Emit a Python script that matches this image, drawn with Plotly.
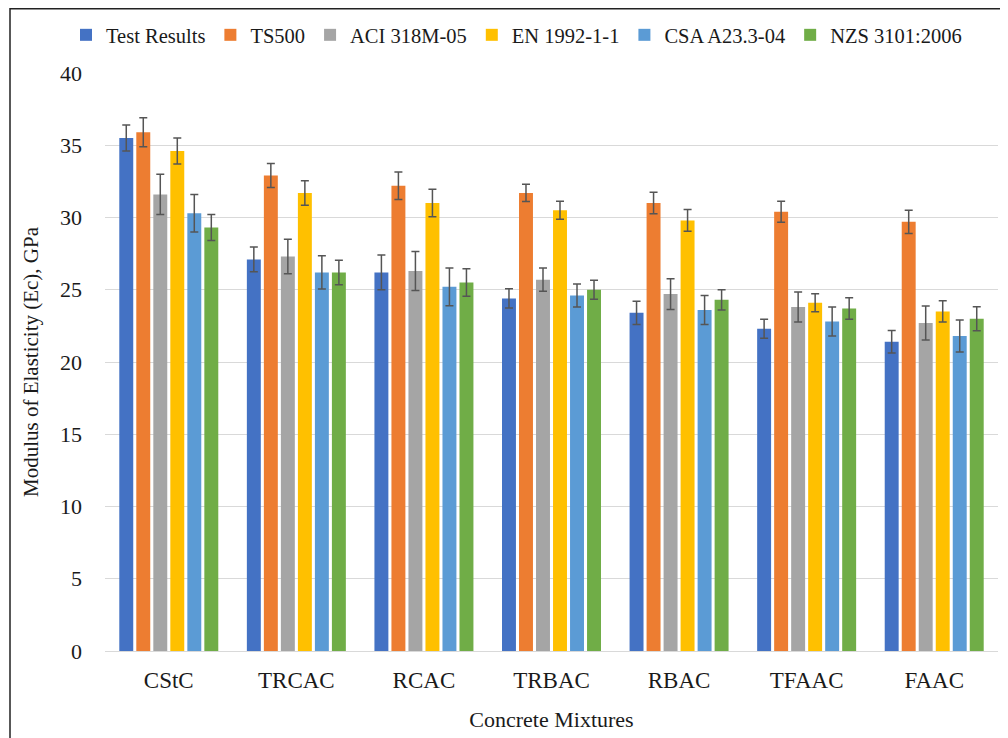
import plotly.graph_objects as go

categories = ["CStC", "TRCAC", "RCAC", "TRBAC", "RBAC", "TFAAC", "FAAC"]

series_names = ["Test Results", "TS500", "ACI 318M-05", "EN 1992-1-1", "CSA A23.3-04", "NZS 3101:2006"]

test_results = [35.5, 27.1, 26.2, 24.4, 23.4, 22.3, 21.4]
ts500 = [35.9, 32.9, 32.2, 31.7, 31.0, 30.4, 29.7]
aci = [31.6, 27.3, 26.3, 25.7, 24.7, 23.8, 22.7]
en = [34.6, 31.7, 31.0, 30.5, 29.8, 24.1, 23.5]
csa = [30.3, 26.2, 25.2, 24.6, 23.6, 22.8, 21.8]
nzs = [29.3, 26.2, 25.5, 25.0, 24.3, 23.7, 23.0]

err_test = [0.9, 0.85, 1.2, 0.67, 0.8, 0.65, 0.78]
err_ts500 = [1.0, 0.83, 0.95, 0.6, 0.74, 0.73, 0.8]
err_aci = [1.4, 1.2, 1.35, 0.8, 1.06, 1.04, 1.18]
err_en = [0.9, 0.85, 0.95, 0.62, 0.76, 0.62, 0.74]
err_csa = [1.3, 1.15, 1.3, 0.8, 1.0, 1.0, 1.1]
err_nzs = [0.9, 0.85, 0.95, 0.65, 0.7, 0.74, 0.83]

colors = ["#4472C4", "#ED7D31", "#A5A5A5", "#FFC000", "#5B9BD5", "#70AD47"]

y_ticks = [0, 5, 10, 15, 20, 25, 30, 35, 40]

all_values = [test_results, ts500, aci, en, csa, nzs]
all_errors = [err_test, err_ts500, err_aci, err_en, err_csa, err_nzs]

FONT = "Liberation Serif, Times New Roman, serif"

fig = go.Figure()
for name, vals, errs, col in zip(series_names, all_values, all_errors, colors):
    fig.add_trace(go.Bar(
        name=name, x=categories, y=vals, marker_color=col,
        marker_line_width=0,
        error_y=dict(type="data", array=errs, visible=True,
                     color="#555555", thickness=1.5, width=4),
    ))

# page body has an 8px margin, so the figure is drawn 8px in from the window edge
OFF = 8
W, H = 1000, 730
L, R, T, B = 97, 10, 65, 87
pw = W - L - R
ph = H - T - B

def px_x(p):  # window pixel -> paper x
    return (p - OFF - L) / pw

def px_y(p):  # window pixel -> paper y
    return (H - B - (p - OFF)) / ph

fig.update_layout(
    width=W, height=H,
    margin=dict(l=L, r=R, t=T, b=B, autoexpand=False),
    plot_bgcolor="white", paper_bgcolor="white",
    font=dict(family=FONT, size=22, color="#1a1a1a"),
    barmode="group", bargap=0.2, bargroupgap=0.18,
    showlegend=True,
    legend=dict(orientation="h", x=px_x(66), xanchor="left",
                y=px_y(35), yanchor="middle",
                font=dict(family=FONT, size=20.5, color="#1a1a1a"),
                itemwidth=30, tracegroupgap=0,
                bgcolor="rgba(0,0,0,0)"),
    xaxis=dict(showgrid=False, showline=True, linecolor="#d9d9d9", linewidth=1,
               automargin=False,
               ticks="", tickfont=dict(family=FONT, size=23, color="#1a1a1a"),
               ticklabelstandoff=8,
               title=dict(text="Concrete Mixtures", standoff=20,
                          font=dict(family=FONT, size=22, color="#1a1a1a"))),
    yaxis=dict(range=[0, 40], tickvals=y_ticks, showgrid=True, gridcolor="#d9d9d9",
               gridwidth=1, zeroline=False, showline=False, ticks="",
               automargin=False,
               ticklabelstandoff=22,
               tickfont=dict(family=FONT, size=22, color="#1a1a1a"),
               title=dict(text="Modulus of Elasticity (Ec), GPa", standoff=15,
                          font=dict(family=FONT, size=21, color="#1a1a1a"))),
    shapes=[dict(type="rect", xref="paper", yref="paper",
                 x0=px_x(10), x1=px_x(1020), y0=px_y(750), y1=(H - B - 0.75) / ph,
                 line=dict(color="#222222", width=1.5), fillcolor="rgba(0,0,0,0)",
                 layer="below")],
)

fig.write_html("out.html")
